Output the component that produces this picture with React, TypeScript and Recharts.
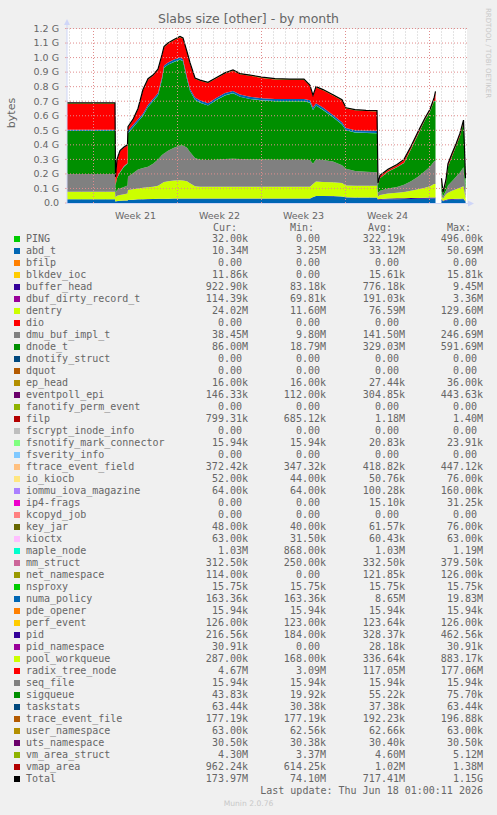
import React from "react";
import { ComposedChart, Area, Line, XAxis, YAxis, ReferenceLine, CartesianGrid } from "recharts";

// time axis in hours since the left edge of the month graph
const hours = [
  0, 96, 97, 100, 106, 114, 121,
  122, 132, 142, 152, 162, 172, 182, 190, 194, 202, 214, 226, 232, 240, 246, 256, 266, 282, 300, 316,
  332, 346, 366, 390, 416, 446, 474, 486, 492, 498, 512, 532, 550, 558, 576, 598, 620,
  622, 626, 642, 660, 674, 688, 702, 716, 726, 734, 737,
  742,
  749, 752, 758, 762, 770, 778, 786, 793, 797,
];

// values in G (bytes / 1e9)
const abdT = [
  0.025, 0.025, 0.01, 0.012, 0.015, 0.016, 0.016,
  0.02, 0.022, 0.024, 0.025, 0.026, 0.027, 0.028, 0.028, 0.028, 0.029, 0.03, 0.03, 0.03, 0.03, 0.03, 0.03, 0.03, 0.03, 0.03, 0.03,
  0.03, 0.03, 0.03, 0.03, 0.03, 0.03, 0.03, 0.03, 0.04, 0.048, 0.048, 0.047, 0.044, 0.038, 0.036, 0.036, 0.036,
  0.02, 0.022, 0.025, 0.026, 0.027, 0.028, 0.029, 0.03, 0.031, 0.032, 0.032,
  null,
  0.02, 0.012, 0.018, 0.02, 0.022, 0.024, 0.025, 0.026, 0.0103,
];
const bufferHead = [
  0.001, 0.001, 0.001, 0.001, 0.001, 0.001, 0.001,
  0.001, 0.001, 0.001, 0.001, 0.001, 0.001, 0.001, 0.001, 0.001, 0.001, 0.001, 0.001, 0.001, 0.001, 0.001, 0.001, 0.001, 0.001, 0.001, 0.001,
  0.001, 0.001, 0.001, 0.001, 0.001, 0.001, 0.001, 0.001, 0.001, 0.001, 0.001, 0.001, 0.001, 0.001, 0.001, 0.001, 0.001,
  0.006, 0.006, 0.006, 0.006, 0.006, 0.006, 0.006, 0.006, 0.006, 0.006, 0.006,
  null,
  0.005, 0.004, 0.005, 0.005, 0.005, 0.005, 0.005, 0.005, 0.0009,
];
const dentry = [
  0.052, 0.052, 0.029, 0.037, 0.039, 0.043, 0.048,
  0.069, 0.072, 0.075, 0.079, 0.081, 0.084, 0.089, 0.106, 0.116, 0.12, 0.124, 0.126, 0.124, 0.119, 0.104, 0.084, 0.081, 0.081, 0.081, 0.081,
  0.081, 0.081, 0.081, 0.081, 0.081, 0.081, 0.081, 0.081, 0.089, 0.098, 0.096, 0.094, 0.093, 0.081, 0.081, 0.081, 0.081,
  0.019, 0.027, 0.034, 0.038, 0.042, 0.051, 0.06, 0.069, 0.078, 0.092, 0.092,
  null,
  0.025, 0.014, 0.037, 0.045, 0.058, 0.066, 0.075, 0.084, 0.024,
];
const dmuBufImplT = [
  0.122, 0.122, 0.03, 0.04, 0.045, 0.05, 0.055,
  0.09, 0.11, 0.13, 0.135, 0.142, 0.158, 0.182, 0.195, 0.195, 0.21, 0.225, 0.238, 0.24, 0.23, 0.215, 0.195, 0.186, 0.184, 0.186, 0.19,
  0.193, 0.191, 0.188, 0.188, 0.186, 0.185, 0.185, 0.183, 0.14, 0.153, 0.15, 0.143, 0.122, 0.115, 0.102, 0.097, 0.094,
  0.025, 0.03, 0.035, 0.04, 0.05, 0.065, 0.085, 0.115, 0.135, 0.155, 0.16,
  null,
  0.03, 0.015, 0.025, 0.05, 0.065, 0.085, 0.105, 0.13, 0.0385,
];
const dnodeT = [
  0.295, 0.295, 0.05, 0.08, 0.11, 0.14, 0.15,
  0.3, 0.315, 0.33, 0.36, 0.41, 0.43, 0.44, 0.52, 0.59, 0.59, 0.59, 0.59, 0.58, 0.47, 0.42, 0.4, 0.392, 0.374, 0.412, 0.438,
  0.45, 0.427, 0.415, 0.405, 0.402, 0.403, 0.403, 0.395, 0.37, 0.37, 0.345, 0.305, 0.28, 0.265, 0.265, 0.267, 0.268,
  0.055, 0.085, 0.115, 0.135, 0.15, 0.22, 0.29, 0.35, 0.38, 0.415, 0.41,
  null,
  0.07, 0.02, 0.055, 0.13, 0.17, 0.21, 0.25, 0.31, 0.086,
];
const mapleNode = [
  0.001, 0.001, 0.001, 0.001, 0.001, 0.001, 0.001,
  0.001, 0.001, 0.001, 0.001, 0.001, 0.001, 0.001, 0.001, 0.001, 0.001, 0.001, 0.001, 0.001, 0.001, 0.001, 0.001, 0.001, 0.001, 0.001, 0.001,
  0.001, 0.001, 0.001, 0.001, 0.001, 0.001, 0.001, 0.001, 0.001, 0.001, 0.001, 0.001, 0.001, 0.001, 0.001, 0.001, 0.001,
  0.001, 0.001, 0.001, 0.001, 0.001, 0.001, 0.001, 0.001, 0.001, 0.001, 0.001,
  null,
  0.001, 0.001, 0.001, 0.001, 0.001, 0.001, 0.001, 0.001, 0.00103,
];
const numaPolicy = [
  0.008, 0.008, 0.003, 0.003, 0.003, 0.003, 0.003,
  0.015, 0.015, 0.015, 0.015, 0.015, 0.015, 0.015, 0.015, 0.015, 0.015, 0.015, 0.015, 0.015, 0.015, 0.015, 0.015, 0.015, 0.015, 0.015, 0.015,
  0.015, 0.015, 0.015, 0.015, 0.015, 0.015, 0.015, 0.015, 0.015, 0.015, 0.015, 0.015, 0.015, 0.015, 0.015, 0.015, 0.015,
  0.001, 0.001, 0.001, 0.001, 0.001, 0.001, 0.001, 0.001, 0.001, 0.001, 0.001,
  null,
  0.0002, 0.0002, 0.0002, 0.0002, 0.0002, 0.0002, 0.0002, 0.0002, 0.00016,
];
const radixTreeNode = [
  0.179, 0.179, 0.052, 0.122, 0.142, 0.127, 0.122,
  0.024, 0.034, 0.069, 0.159, 0.174, 0.159, 0.159, 0.149, 0.124, 0.129, 0.134, 0.139, 0.139, 0.169, 0.174, 0.129, 0.134, 0.139, 0.134, 0.134,
  0.139, 0.139, 0.144, 0.139, 0.134, 0.131, 0.131, 0.099, 0.079, 0.109, 0.119, 0.134, 0.149, 0.134, 0.136, 0.134, 0.134,
  0.005, 0.013, 0.01, 0.013, 0.018, 0.013, 0.013, 0.008, 0.008, 0.013, 0.06,
  null,
  0.015, 0.004, 0.015, 0.015, 0.015, 0.01, 0.015, 0.01, 0.00467,
];
const vmAreaStruct = [
  0.005, 0.005, 0.004, 0.004, 0.004, 0.004, 0.004,
  0.005, 0.005, 0.005, 0.005, 0.005, 0.005, 0.005, 0.005, 0.005, 0.005, 0.005, 0.005, 0.005, 0.005, 0.005, 0.005, 0.005, 0.005, 0.005, 0.005,
  0.005, 0.005, 0.005, 0.005, 0.005, 0.005, 0.005, 0.005, 0.005, 0.005, 0.005, 0.005, 0.005, 0.005, 0.005, 0.005, 0.005,
  0.005, 0.005, 0.005, 0.005, 0.005, 0.005, 0.005, 0.005, 0.005, 0.005, 0.005,
  null,
  0.004, 0.004, 0.004, 0.004, 0.004, 0.004, 0.004, 0.004, 0.0043,
];

const yTicks = [0, 0.1, 0.2, 0.3, 0.4, 0.5, 0.6, 0.7, 0.8, 0.9, 1.0, 1.1, 1.2];
const weekMid = [137, 305, 473, 641];
const weekLabels = ["Week 21", "Week 22", "Week 23", "Week 24"];
const weekStarts = [53, 221, 389, 557, 725];

const palette = [
  "#00CC00", "#0066B3", "#FF8000", "#FFCC00", "#330099", "#990099", "#CCFF00", "#FF0000", "#808080",
  "#008F00", "#00487D", "#B35A00", "#B38F00", "#6B006B", "#8FB300", "#B30000", "#BEBEBE", "#80FF80",
  "#80C9FF", "#FFC080", "#FFE680", "#AA80FF", "#EE00CC", "#FF8080", "#666600", "#FFBFFF", "#00FFCC",
  "#CC6699", "#999900",
];

const legendNames = [
  "PING", "abd_t", "bfilp", "blkdev_ioc", "buffer_head", "dbuf_dirty_record_t", "dentry", "dio",
  "dmu_buf_impl_t", "dnode_t", "dnotify_struct", "dquot", "ep_head", "eventpoll_epi", "fanotify_perm_event",
  "filp", "fscrypt_inode_info", "fsnotify_mark_connector", "fsverity_info", "ftrace_event_field", "io_kiocb",
  "iommu_iova_magazine", "ip4-frags", "kcopyd_job", "key_jar", "kioctx", "maple_node", "mm_struct",
  "net_namespace", "nsproxy", "numa_policy", "pde_opener", "perf_event", "pid", "pid_namespace",
  "pool_workqueue", "radix_tree_node", "seq_file", "sigqueue", "taskstats", "trace_event_file",
  "user_namespace", "uts_namespace", "vm_area_struct", "vmap_area", "Total",
];
const curValues = [
  "32.00k", "10.34M", "0.00", "11.86k", "922.90k", "114.39k", "24.02M", "0.00", "38.45M", "86.00M", "0.00",
  "0.00", "16.00k", "146.33k", "0.00", "799.31k", "0.00", "15.94k", "0.00", "372.42k", "52.00k", "64.00k",
  "0.00", "0.00", "48.00k", "63.00k", "1.03M", "312.50k", "114.00k", "15.75k", "163.36k", "15.94k",
  "126.00k", "216.56k", "30.91k", "287.00k", "4.67M", "15.94k", "43.83k", "63.44k", "177.19k", "63.00k",
  "30.50k", "4.30M", "962.24k", "173.97M",
];
const minValues = [
  "0.00", "3.25M", "0.00", "0.00", "83.18k", "69.81k", "11.60M", "0.00", "9.80M", "18.79M", "0.00",
  "0.00", "16.00k", "112.00k", "0.00", "685.12k", "0.00", "15.94k", "0.00", "347.32k", "44.00k", "64.00k",
  "0.00", "0.00", "40.00k", "31.50k", "868.00k", "250.00k", "0.00", "15.75k", "163.36k", "15.94k",
  "123.00k", "184.00k", "0.00", "168.00k", "3.09M", "15.94k", "19.92k", "30.38k", "177.19k", "62.56k",
  "30.38k", "3.37M", "614.25k", "74.10M",
];
const avgValues = [
  "322.19k", "33.12M", "0.00", "15.61k", "776.18k", "191.03k", "76.59M", "0.00", "141.50M", "329.03M", "0.00",
  "0.00", "27.44k", "304.85k", "0.00", "1.18M", "0.00", "20.83k", "0.00", "418.82k", "50.76k", "100.28k",
  "15.10k", "0.00", "61.57k", "60.43k", "1.03M", "332.50k", "121.85k", "15.75k", "8.65M", "15.94k",
  "123.64k", "328.37k", "28.18k", "336.64k", "117.05M", "15.94k", "55.22k", "37.38k", "192.23k", "62.66k",
  "30.40k", "4.60M", "1.02M", "717.41M",
];
const maxValues = [
  "496.00k", "50.69M", "0.00", "15.81k", "9.45M", "3.36M", "129.60M", "0.00", "246.69M", "591.69M", "0.00",
  "0.00", "36.00k", "443.63k", "0.00", "1.40M", "0.00", "23.91k", "0.00", "447.12k", "76.00k", "160.00k",
  "31.25k", "0.00", "76.00k", "63.00k", "1.19M", "379.50k", "126.00k", "15.75k", "19.83M", "15.94k",
  "126.00k", "462.56k", "30.91k", "883.17k", "177.06M", "15.94k", "75.70k", "63.44k", "196.88k", "63.00k",
  "30.50k", "5.12M", "1.38M", "1.15G",
];

const colorOf = (name: string) => {
  const i = legendNames.indexOf(name);
  return name === "Total" ? "#000000" : palette[i % palette.length];
};

// stacked in legend order (only the series that are big enough to show)
const stacked: [string, (number | null)[]][] = [
  ["abd_t", abdT],
  ["buffer_head", bufferHead],
  ["dentry", dentry],
  ["dmu_buf_impl_t", dmuBufImplT],
  ["dnode_t", dnodeT],
  ["maple_node", mapleNode],
  ["numa_policy", numaPolicy],
  ["radix_tree_node", radixTreeNode],
  ["vm_area_struct", vmAreaStruct],
];

const rows = hours.map((h, i) => {
  const row: Record<string, number | null> = { h };
  let total: number | null = 0;
  stacked.forEach(([name, vals]) => {
    row[name] = vals[i];
    total = vals[i] == null || total == null ? null : total + (vals[i] as number);
  });
  row.total = total;
  return row;
});

const dayLines = Array.from({ length: 34 }, (_, i) => 5 + 24 * i).filter((d) => !weekStarts.includes(d));

const FONT = "'DejaVu Sans', sans-serif";
const MONO = "'DejaVu Sans Mono', monospace";
const TXT = "#666666";

const Chart = () => (
  <ComposedChart
    width={497}
    height={225}
    data={rows}
    margin={{ top: 28.5, right: 30, bottom: 2, left: 7 }}
  >
    <CartesianGrid
      horizontal={false}
      vertical
      verticalValues={dayLines}
      stroke="#c8c8c8"
      strokeDasharray="1 2"
    />
    <XAxis
      dataKey="h"
      type="number"
      domain={[0, 800]}
      ticks={weekMid}
      interval={0}
      tickFormatter={(_v: number, i: number) => weekLabels[i]}
      axisLine={false}
      tickLine={false}
      tickMargin={3}
      height={20}
      tick={{ fontFamily: FONT, fontSize: 9.5, fill: TXT }}
    />
    <YAxis
      type="number"
      domain={[0, 1.2]}
      ticks={yTicks}
      interval={0}
      width={60}
      axisLine={false}
      tickLine={{ stroke: "#e8a0a0" }}
      tickSize={2}
      tickMargin={6}
      tickFormatter={(v: number) => (v === 0 ? "0.0" : `${v.toFixed(1)} G`)}
      tick={{ fontFamily: FONT, fontSize: 9.5, fill: TXT }}
    />
    {stacked.map(([name]) => (
      <Area
        key={name}
        type="linear"
        dataKey={name}
        stackId="slabs"
        stroke="none"
        fill={colorOf(name)}
        fillOpacity={1}
        connectNulls={false}
        dot={false}
        activeDot={false}
        isAnimationActive={false}
      />
    ))}
    <Line
      type="linear"
      dataKey="total"
      stroke="#000000"
      strokeWidth={1.2}
      dot={false}
      activeDot={false}
      connectNulls={false}
      isAnimationActive={false}
    />
    {weekStarts.map((d) => (
      <ReferenceLine key={`w${d}`} x={d} stroke="#e08c8c" strokeDasharray="1 2" ifOverflow="extendDomain" />
    ))}
    {yTicks.slice(1).map((v) => (
      <ReferenceLine key={`y${v}`} y={v} stroke="#e08c8c" strokeDasharray="1 2" ifOverflow="extendDomain" />
    ))}
  </ComposedChart>
);

const rowTop = (i: number) => 239.3 + i * 12 - 6;

const val = (s: string) => (/[kMG]$/.test(s) ? s : s + " ");

export default function App() {
  return (
    <div
      style={{
        position: "absolute",
        left: 0,
        top: 0,
        width: 497,
        height: 815,
        background: "#F0F0F0",
        overflow: "hidden",
        color: TXT,
      }}
    >
      <div
        style={{
          position: "absolute",
          left: 0,
          top: 11,
          width: 497,
          textAlign: "center",
          fontFamily: FONT,
          fontSize: 12.5,
          color: TXT,
        }}
      >
        Slabs size [other] - by month
      </div>
      <div
        style={{
          position: "absolute",
          left: 11,
          top: 113,
          transform: "translate(-50%, -50%) rotate(-90deg)",
          fontFamily: FONT,
          fontSize: 11,
          whiteSpace: "nowrap",
        }}
      >
        bytes
      </div>
      <div
        style={{
          position: "absolute",
          left: 488,
          top: 53,
          transform: "translate(-50%, -50%) rotate(90deg)",
          fontFamily: FONT,
          fontSize: 7,
          color: "#c8c8c8",
          whiteSpace: "nowrap",
        }}
      >
        RRDTOOL / TOBI OETIKER
      </div>
      <div style={{ position: "absolute", left: 67, top: 28.5, width: 400, height: 174.5, background: "#ffffff" }} />
      <div style={{ position: "absolute", left: 0, top: 0 }}>
        <Chart />
      </div>
      <svg width={497} height={225} style={{ position: "absolute", left: 0, top: 0, pointerEvents: "none" }}>
        <line x1={67} y1={203.5} x2={67} y2={24} stroke="#CFD6F8" strokeWidth={1} />
        <polygon points="64,25 70,25 67,19" fill="#CFD6F8" />
        <line x1={66} y1={203.5} x2={468} y2={203.5} stroke="#CFD6F8" strokeWidth={1} />
        <polygon points="468,200.5 468,206.5 474,203.5" fill="#CFD6F8" />
      </svg>

      {["Cur:", "Min:", "Avg:", "Max:"].map((h, i) => (
        <div
          key={h}
          style={{
            position: "absolute",
            left: [213, 290, 368, 447][i],
            top: 222,
            lineHeight: "12px",
            fontFamily: MONO,
            fontSize: 10,
          }}
        >
          {h}
        </div>
      ))}
      {legendNames.map((name, i) => (
        <React.Fragment key={name}>
          <div
            style={{
              position: "absolute",
              left: 14,
              top: rowTop(i) + 3,
              width: 6,
              height: 6,
              background: colorOf(name),
            }}
          />
          <div
            style={{
              position: "absolute",
              left: 26,
              top: rowTop(i),
              lineHeight: "12px",
              fontFamily: MONO,
              fontSize: 10,
              whiteSpace: "pre",
            }}
          >
            {name}
          </div>
          {[curValues, minValues, avgValues, maxValues].map((col, c) => (
            <div
              key={c}
              style={{
                position: "absolute",
                left: [248, 326, 405, 483][c] - 90,
                width: 90,
                top: rowTop(i),
                lineHeight: "12px",
                textAlign: "right",
                fontFamily: MONO,
                fontSize: 10,
                whiteSpace: "pre",
              }}
            >
              {val(col[i])}
            </div>
          ))}
        </React.Fragment>
      ))}
      <div
        style={{
          position: "absolute",
          left: 183,
          width: 300,
          top: 785,
          lineHeight: "12px",
          textAlign: "right",
          fontFamily: MONO,
          fontSize: 10,
          whiteSpace: "pre",
        }}
      >
        Last update: Thu Jun 18 01:00:11 2026
      </div>
      <div
        style={{
          position: "absolute",
          left: 0,
          width: 497,
          top: 799,
          lineHeight: "10px",
          textAlign: "center",
          fontFamily: FONT,
          fontSize: 7.6,
          color: "#c8c8c8",
        }}
      >
        Munin 2.0.76
      </div>
    </div>
  );
}
